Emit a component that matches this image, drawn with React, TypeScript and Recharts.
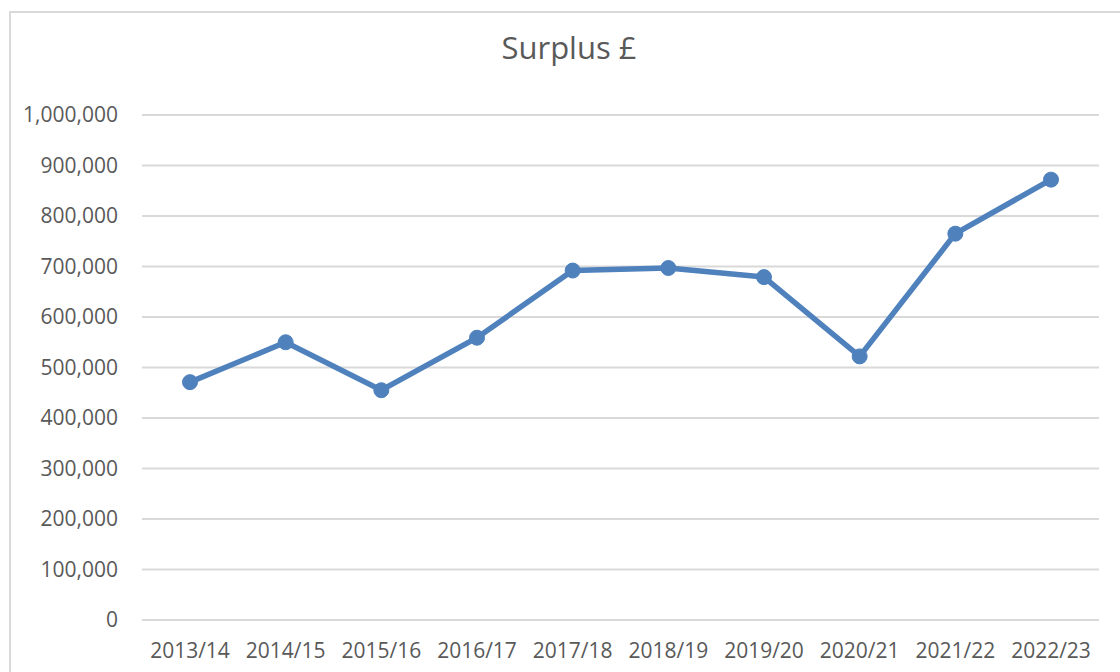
import { LineChart, Line, XAxis, YAxis, CartesianGrid } from "recharts";

const years = [
  "2013/14", "2014/15", "2015/16", "2016/17", "2017/18",
  "2018/19", "2019/20", "2020/21", "2021/22", "2022/23",
];
const surplus = [471000, 550000, 455000, 559000, 692000, 697000, 679000, 522000, 765000, 872000];
const yTicks = [0, 100000, 200000, 300000, 400000, 500000, 600000, 700000, 800000, 900000, 1000000];

const data = years.map((year, i) => ({ year, surplus: surplus[i] }));

const textColor = "#595959";
const font = "'Open Sans', sans-serif";

const fmt = (v: number) => String(v).replace(/\B(?=(\d{3})+(?!\d))/g, ",");

export default function App() {
  return (
    <div style={{ position: "absolute", left: 0, top: 0, width: 1120, height: 672, overflow: "hidden", background: "#fff" }}>
      <div
        style={{
          position: "absolute",
          left: 9,
          top: 11,
          width: 1200,
          height: 800,
          border: "2px solid #d9d9d9",
          boxSizing: "border-box",
        }}
      />
      <div
        style={{
          position: "absolute",
          left: 0,
          top: 26,
          width: 1138,
          textAlign: "center",
          fontFamily: font,
          fontSize: 31,
          color: textColor,
          lineHeight: "42px",
        }}
      >
        Surplus £
      </div>
      <div style={{ position: "absolute", left: 0, top: 0 }}>
        <LineChart
          width={1120}
          height={672}
          data={data}
          margin={{ top: 115, right: 21, bottom: 0, left: 0 }}
        >
          <CartesianGrid vertical={false} stroke="#d9d9d9" strokeWidth={2} />
          <XAxis
            dataKey="year"
            height={52}
            padding={{ left: 48, right: 48 }}
            axisLine={false}
            tickLine={false}
            tickSize={0}
            tickMargin={23}
            interval={0}
            tick={{ fill: textColor, fontSize: 21, fontFamily: font }}
          />
          <YAxis
            width={142}
            domain={[0, 1000000]}
            ticks={yTicks}
            interval={0}
            axisLine={false}
            tickLine={false}
            tickSize={0}
            tickMargin={24}
            tickFormatter={fmt}
            tick={{ fill: textColor, fontSize: 21, fontFamily: font }}
          />
          <Line
            type="linear"
            dataKey="surplus"
            stroke="#4f81bd"
            strokeWidth={5.5}
            dot={{ r: 7.5, fill: "#4f81bd", stroke: "#4f81bd", strokeWidth: 1 }}
            isAnimationActive={false}
          />
        </LineChart>
      </div>
    </div>
  );
}
